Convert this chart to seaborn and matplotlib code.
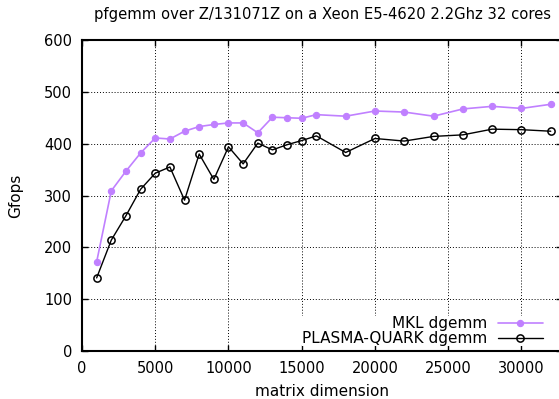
import matplotlib
matplotlib.use("Agg")
import matplotlib.pyplot as plt
import seaborn as sns
import pandas as pd

sizes = [1000, 2000, 3000, 4000, 5000, 6000, 7000, 8000, 9000, 10000,
         11000, 12000, 13000, 14000, 15000, 16000, 18000, 20000, 22000,
         24000, 26000, 28000, 30000, 32000]
mkl = [172, 309, 347, 382, 411, 409, 424, 433, 437, 440,
       440, 421, 451, 450, 449, 456, 453, 463, 461,
       453, 467, 472, 468, 476]
plasma = [141, 214, 261, 312, 343, 355, 291, 380, 331, 394,
          361, 401, 388, 398, 406, 415, 383, 410, 405,
          414, 417, 428, 427, 424]
labels = ["MKL dgemm", "PLASMA-QUARK dgemm"]
title = "pfgemm over Z/131071Z on a Xeon E5-4620 2.2Ghz 32 cores"
xticks = [0, 5000, 10000, 15000, 20000, 25000, 30000]
yticks = [0, 100, 200, 300, 400, 500, 600]

sns.set_style("white")
plt.rcParams['font.family'] = ['DejaVu Sans']
plt.rcParams['font.size'] = 10
plt.rcParams['text.color'] = 'black'
plt.rcParams['axes.labelcolor'] = 'black'
plt.rcParams['xtick.color'] = 'black'
plt.rcParams['ytick.color'] = 'black'

df_mkl = pd.DataFrame({"n": sizes, "gflops": mkl})
df_pl = pd.DataFrame({"n": sizes, "gflops": plasma})

fig = plt.figure(figsize=(5.59, 3.99), dpi=100)
W, H = 559, 399
ax = fig.add_axes([82 / W, (H - 351) / H, (562 - 82) / W, (351 - 40) / H])

purple = "#c080ff"
sns.lineplot(data=df_mkl, x="n", y="gflops", ax=ax, color=purple, lw=1.2,
             marker="o", markersize=4.5, markeredgecolor=purple,
             markerfacecolor=purple, markeredgewidth=0.8, label=labels[0])
sns.lineplot(data=df_pl, x="n", y="gflops", ax=ax, color="black", lw=1.0,
             marker="o", markersize=5.2, markeredgecolor="black",
             markerfacecolor="none", markeredgewidth=1.1, label=labels[1])

ax.set_xlim(0, 32768)
ax.set_ylim(0, 600)
ax.set_xticks(xticks)
ax.set_yticks(yticks)
ax.set_xticklabels([str(v) for v in xticks])
ax.set_yticklabels([str(v) for v in yticks])
ax.grid(True, color="black", linestyle=(0, (1, 2)), linewidth=0.7)
ax.set_axisbelow(True)
for s in ax.spines.values():
    s.set_linewidth(1.5)
    s.set_color("black")
    s.set_visible(True)
ax.tick_params(direction="in", length=4, width=1, top=True, right=True,
               bottom=True, left=True, pad=7, labelsize=10.5, colors="black")
ax.set_xlabel("matrix dimension", fontsize=11, labelpad=6, color="black")
ax.set_ylabel("Gfops", fontsize=11, labelpad=15, color="black")
ax.set_title(title, fontsize=10.6, pad=15, color="black")

leg = ax.legend(loc="lower right", bbox_to_anchor=((543 - 82) / 480, (351 - 346) / 311),
                markerfirst=False, frameon=True, fancybox=False, edgecolor="none",
                facecolor="white", framealpha=1, borderpad=0, borderaxespad=0,
                handlelength=2.95, handletextpad=0.72, labelspacing=0.0, fontsize=11)
for t in leg.get_texts():
    t.set_color("black")

fig.savefig("out.png", dpi=100)
